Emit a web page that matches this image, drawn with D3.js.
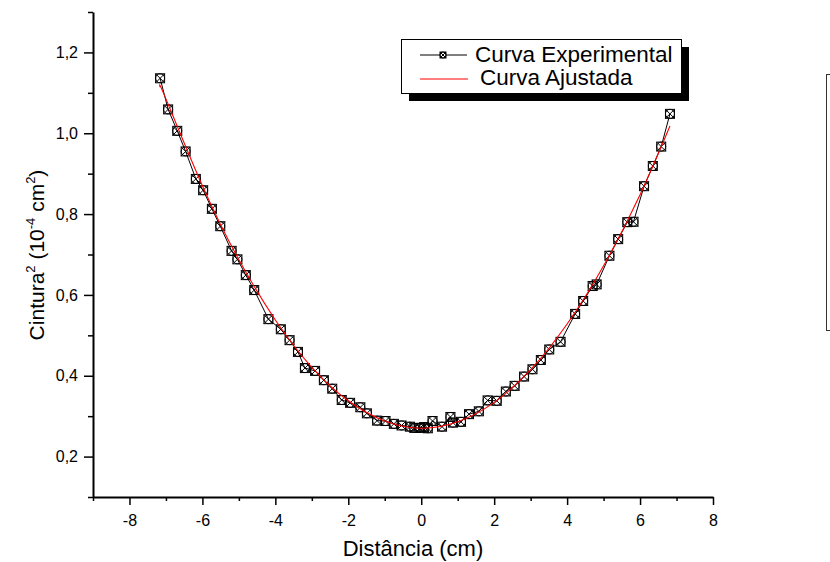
<!DOCTYPE html>
<html>
<head>
<meta charset="utf-8">
<script src="https://cdn.jsdelivr.net/npm/d3@7"></script>
<style>
  body { margin: 0; background: #fff; }
  svg { display: block; font-family: "Liberation Sans", Arial, sans-serif; }
</style>
</head>
<body>
<div id="chart"></div>
<script>
// experimental points (distance in cm, waist^2 in 10^-4 cm^2)
const distancia = [-7.16, -6.94, -6.69, -6.46, -6.18, -5.98, -5.74, -5.51, -5.20, -5.04,
  -4.81, -4.58, -4.19, -3.85, -3.61, -3.38, -3.19, -2.91, -2.67, -2.44,
  -2.18, -1.95, -1.67, -1.49, -1.21, -0.98, -0.75, -0.54, -0.31, -0.19,
  -0.03, 0.08, 0.18, 0.31, 0.57, 0.80, 0.87, 1.09, 1.31, 1.58,
  1.82, 2.07, 2.32, 2.56, 2.82, 3.05, 3.28, 3.51, 3.82, 4.22,
  4.44, 4.70, 4.81, 5.16, 5.40, 5.65, 5.82, 6.11, 6.35, 6.58, 6.82];
const cintura2 = [1.136, 1.059, 1.006, 0.955, 0.887, 0.859, 0.813, 0.770, 0.709, 0.688,
  0.649, 0.612, 0.540, 0.515, 0.488, 0.459, 0.419, 0.412, 0.389, 0.368,
  0.340, 0.333, 0.322, 0.307, 0.289, 0.288, 0.281, 0.277, 0.274, 0.271,
  0.271, 0.273, 0.270, 0.288, 0.274, 0.298, 0.284, 0.286, 0.305, 0.312,
  0.339, 0.338, 0.361, 0.375, 0.398, 0.416, 0.439, 0.465, 0.484, 0.553,
  0.585, 0.622, 0.626, 0.697, 0.738, 0.780, 0.781, 0.869, 0.919, 0.967, 1.048];

// fitted curve
const ajusteX = [-7.16, -7, -6, -5, -4, -3, -2, -1, 0, 1, 2, 3, 4, 5, 6, 6.82];
const ajusteY = [1.114, 1.085, 0.870, 0.687, 0.538, 0.421, 0.338, 0.288, 0.270, 0.286, 0.334, 0.415, 0.528, 0.672, 0.848, 1.018];

const xMajor = [-8, -6, -4, -2, 0, 2, 4, 6, 8];
const xMinor = [-9, -7, -5, -3, -1, 1, 3, 5, 7];
const yMajor = [0.2, 0.4, 0.6, 0.8, 1.0, 1.2];
const yMinor = [0.1, 0.3, 0.5, 0.7, 0.9, 1.1, 1.3];

const W = 830, H = 562;
const margin = { top: 12, right: 117, bottom: 65, left: 93 };
const width = W - margin.left - margin.right;
const height = H - margin.top - margin.bottom;

const svg = d3.select("#chart")
  .append("svg")
  .attr("width", W)
  .attr("height", H);

const g = svg.append("g")
  .attr("transform", `translate(${margin.left},${margin.top})`);

const x = d3.scaleLinear().domain([-9, 8]).range([0, width]);
const y = d3.scaleLinear().domain([0.1, 1.3]).range([height, 0]);

const fmtY = d => d3.format(".1f")(d).replace(".", ",");

// Axes
g.append("g")
  .attr("transform", `translate(0,${height})`)
  .call(d3.axisBottom(x).tickValues(xMajor).tickFormat(d => String(d))
    .tickSize(8).tickSizeOuter(0).tickPadding(10));
g.append("g")
  .attr("transform", `translate(0,${height})`)
  .call(d3.axisBottom(x).tickValues(xMinor).tickFormat("").tickSize(4).tickSizeOuter(0))
  .select(".domain").remove();

g.append("g")
  .call(d3.axisLeft(y).tickValues(yMajor).tickFormat(fmtY)
    .tickSize(9).tickSizeOuter(0).tickPadding(6));
g.append("g")
  .call(d3.axisLeft(y).tickValues(yMinor).tickFormat("").tickSize(5).tickSizeOuter(0))
  .select(".domain").remove();

g.selectAll(".domain").attr("stroke", "#000").attr("stroke-width", 2);
g.selectAll(".tick line").attr("stroke", "#000").attr("stroke-width", 1.5);
g.selectAll(".tick text").attr("fill", "#000").style("font-size", "16px")
  .style("font-family", "'Liberation Sans', Arial, sans-serif");

// Axis titles
svg.append("text")
  .attr("x", 413)
  .attr("y", 556)
  .attr("text-anchor", "middle")
  .style("font-size", "22px")
  .text("Distância (cm)");

const yl = svg.append("text")
  .attr("transform", `translate(44,255) rotate(-90)`)
  .attr("text-anchor", "middle")
  .style("font-size", "21px");
yl.append("tspan").text("Cintura");
yl.append("tspan").attr("dy", -9).style("font-size", "13px").text("2");
yl.append("tspan").attr("dy", 9).text(" (10");
yl.append("tspan").attr("dy", -9).style("font-size", "13px").text("-4");
yl.append("tspan").attr("dy", 9).text(" cm");
yl.append("tspan").attr("dy", -9).style("font-size", "13px").text("2");
yl.append("tspan").attr("dy", 9).text(")");

const pts = distancia.map((d, i) => ({ x: d, y: cintura2[i] }));
const fit = ajusteX.map((d, i) => ({ x: d, y: ajusteY[i] }));

// marker: square with circle and cross
function marker(sel, s) {
  const h = s / 2;
  sel.append("rect").attr("x", -h).attr("y", -h).attr("width", s).attr("height", s);
  sel.append("circle").attr("r", h);
  sel.append("path").attr("d", `M${-h},${-h}L${h},${h}M${-h},${h}L${h},${-h}`);
  sel.attr("fill", "none").attr("stroke", "#000").attr("stroke-width", 1);
}

// Experimental line + points
g.append("path")
  .datum(pts)
  .attr("fill", "none")
  .attr("stroke", "#000")
  .attr("stroke-width", 1)
  .attr("d", d3.line().x(d => x(d.x)).y(d => y(d.y)));

g.selectAll("g.pt")
  .data(pts)
  .join("g")
  .attr("class", "pt")
  .attr("transform", d => `translate(${x(d.x)},${y(d.y)})`)
  .call(marker, 9);

// Fitted curve
g.append("path")
  .datum(fit)
  .attr("fill", "none")
  .attr("stroke", "#ff0000")
  .attr("stroke-width", 1.1)
  .attr("d", d3.line().curve(d3.curveNatural).x(d => x(d.x)).y(d => y(d.y)));

// Legend
const lg = svg.append("g");
lg.append("rect").attr("x", 409).attr("y", 47).attr("width", 280).attr("height", 54).attr("fill", "#000");
lg.append("rect").attr("x", 401.5).attr("y", 39.5).attr("width", 280).attr("height", 54)
  .attr("fill", "#fff").attr("stroke", "#000").attr("stroke-width", 1);
lg.append("line").attr("x1", 420).attr("x2", 467).attr("y1", 55).attr("y2", 55)
  .attr("stroke", "#000").attr("stroke-width", 1);
lg.append("g").attr("transform", "translate(443,55)").call(marker, 6)
  .select("rect").attr("fill", "#fff");
lg.append("text").attr("x", 475).attr("y", 62).style("font-size", "22.5px").text("Curva Experimental");
lg.append("line").attr("x1", 420).attr("x2", 468).attr("y1", 79).attr("y2", 79)
  .attr("stroke", "#ff0000").attr("stroke-width", 1.2);
lg.append("text").attr("x", 480).attr("y", 85).style("font-size", "22.5px").text("Curva Ajustada");

// empty box cut at the right edge
svg.append("rect")
  .attr("x", 826.5).attr("y", 74.5).attr("width", 20).attr("height", 256)
  .attr("fill", "none").attr("stroke", "#333").attr("stroke-width", 1);
</script>
</body>
</html>
